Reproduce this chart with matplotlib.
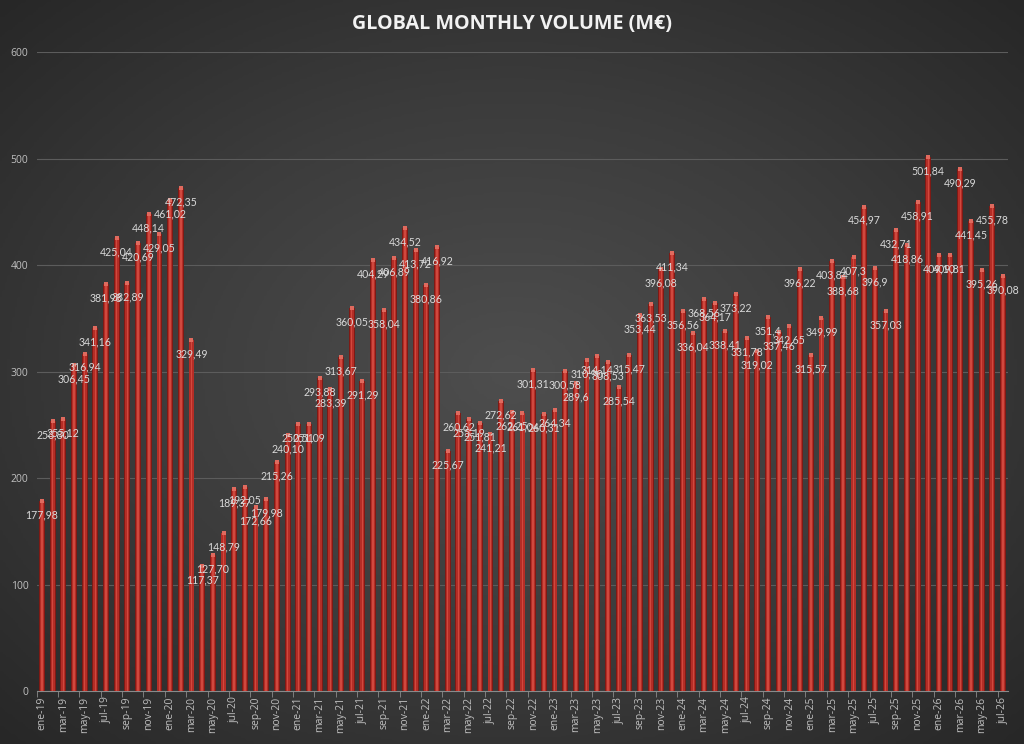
import numpy as np
import matplotlib
matplotlib.use("Agg")
import matplotlib.pyplot as plt

# Meses y valores (M€)
meses = ["ene", "feb", "mar", "abr", "may", "jun", "jul", "ago", "sep", "oct", "nov", "dic"]
anios = ["19", "20", "21", "22", "23", "24", "25", "26"]
etiquetas = [f"{m}-{a}" for a in anios for m in meses][:91]

v2019 = [177.98, 253.8, 255.12, 306.45, 316.94, 341.16, 381.98, 425.04, 382.89, 420.69, 448.14, 429.05]
v2020 = [461.02, 472.35, 329.49, 117.37, 127.70, 148.79, 189.37, 192.05, 172.66, 179.98, 215.26, 240.10]
v2021 = [250.51, 251.09, 293.88, 283.39, 313.67, 360.05, 291.29, 404.29, 358.04, 406.89, 434.52, 413.72]
v2022 = [380.86, 416.92, 225.67, 260.62, 255.19, 251.81, 241.21, 272.62, 262.25, 261.04, 301.31, 260.31]
v2023 = [264.34, 300.58, 289.6, 310.9, 314.14, 308.53, 285.54, 315.47, 353.44, 363.53, 396.08, 411.34]
v2024 = [356.56, 336.04, 368.56, 364.17, 338.41, 373.22, 331.78, 319.02, 351.4, 337.46, 342.65, 396.22]
v2025 = [315.57, 349.99, 403.84, 388.68, 407.3, 454.97, 396.9, 357.03, 432.71, 418.86, 458.91, 501.84]
v2026 = [409.1, 409.81, 490.29, 441.45, 395.26, 455.78, 390.08]

valores = v2019 + v2020 + v2021 + v2022 + v2023 + v2024 + v2025 + v2026
x = np.arange(len(valores))

fig = plt.figure(figsize=(10.24, 7.44), dpi=100)

# Fondo con degradado radial gris
fondo = fig.add_axes([0, 0, 1, 1], zorder=-10)
gx, gy = np.meshgrid(np.linspace(-1, 1, 400), np.linspace(-1, 1, 300))
r = np.sqrt(gx**2 + gy**2)
fondo.imshow(r, cmap=matplotlib.colors.LinearSegmentedColormap.from_list(
    "bg", ["#4e4e4e", "#3c3c3c", "#262626"]), vmin=0, vmax=1.45,
    aspect="auto", extent=[0, 1, 0, 1])
fondo.axis("off")

ax = fig.add_axes([0.0358, 0.0712, 0.9489, 0.8588])
ax.set_facecolor("none")

# Barras con sombreado tipo cilindro
ax.bar(x, valores, width=0.55, color="#7e1a15", zorder=3)
ax.bar(x, valores, width=0.38, color="#b42d26", zorder=4)
ax.bar(x, valores, width=0.14, color="#d0483e", zorder=5)
ax.scatter(x, valores, s=5, color="#e06a5e", marker="s", linewidths=0, zorder=6)

for xi, v in zip(x, valores):
    txt = f"{v:.2f}".replace(".", ",")
    if v in (289.6, 351.4, 407.3, 396.9):
        txt = txt[:-1]
    ax.annotate(txt, (xi, v), xytext=(0, -10), textcoords="offset points",
                ha="center", va="center", fontsize=7.6, color="#d9d9d9",
                family="Lato", zorder=7)

ax.set_xlim(-0.5, len(valores) - 0.5)
ax.set_ylim(0, 600)
ax.set_yticks(np.arange(0, 601, 100))
ax.grid(axis="y", color="#5c5c5c", linewidth=0.8, zorder=0)
ax.tick_params(axis="y", length=0, colors="#bfbfbf", labelsize=7.5, pad=6)
ax.set_xticks(x[::2])
ax.set_xticklabels(etiquetas[::2], rotation=90, fontsize=7.5, color="#bfbfbf", family="Open Sans")
ax.set_xticks(np.arange(-0.5, len(valores), 2), minor=True)
ax.tick_params(axis="x", which="major", length=0, pad=4)
ax.tick_params(axis="x", which="minor", length=4, color="#8a8a8a")
for lbl in ax.get_yticklabels():
    lbl.set_family("Open Sans")
for s in ["top", "right", "left"]:
    ax.spines[s].set_visible(False)
ax.spines["bottom"].set_color("#8a8a8a")

fig.text(0.5, 0.968, "GLOBAL MONTHLY VOLUME (M€)", ha="center", va="center",
         fontsize=14.2, fontweight="bold", color="#f2f2f2", family="Open Sans")

fig.savefig("out.png", dpi=100)
